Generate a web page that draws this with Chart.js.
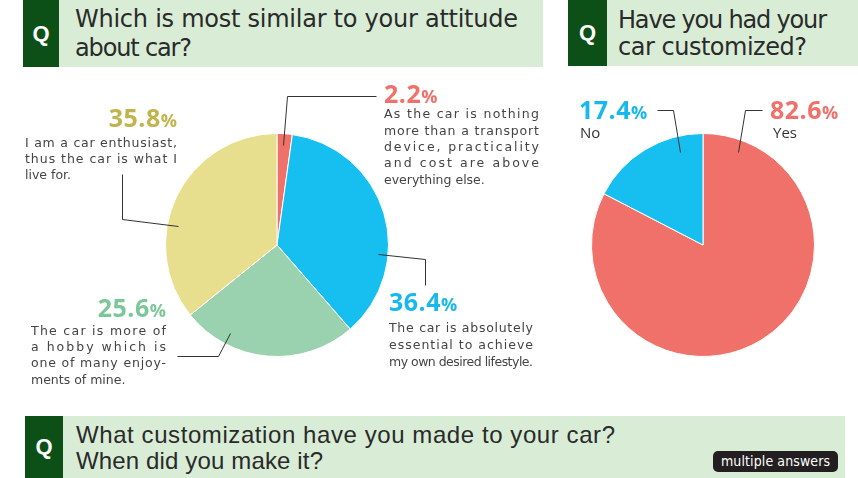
<!DOCTYPE html>
<html><head><meta charset="utf-8">
<script src="https://cdn.jsdelivr.net/npm/chart.js@4.4.1/dist/chart.umd.min.js"></script>
<style>
html,body{margin:0;padding:0;background:#fff;}
body{width:858px;height:478px;overflow:hidden;position:relative;font-family:"Liberation Sans",Arial,sans-serif;}
.abs{position:absolute;white-space:nowrap;}
.hdr{position:absolute;background:#d9edd6;}
.badge{position:absolute;background:#0c4f17;color:#fff;font-weight:bold;font-family:"Liberation Sans",Arial,sans-serif;font-size:22px;display:flex;align-items:center;justify-content:center;}
.ht{color:#2a2a2a;line-height:28px;}
.body{font-family:"DejaVu Sans",sans-serif;font-size:12.5px;color:#444;line-height:16px;}
.pct{font-family:"Open Sans",sans-serif;font-weight:bold;line-height:30px;}
.pct .n{font-size:25px;letter-spacing:0.5px;}
.pct .p{font-size:18px;}
.yn{font-family:"Open Sans",sans-serif;font-size:15px;color:#333;line-height:20px;}
.multi{position:absolute;background:#231f20;border-radius:5px;}
.mt{color:#fff;font-family:"Liberation Sans Narrow","DejaVu Sans Condensed",sans-serif;font-size:14px;line-height:20px;}
.cv{position:absolute;}
</style></head>
<body>
<div class="cv" style="left:0;top:70px;width:560px;height:330px"><canvas id="c1" width="560" height="330"></canvas></div>
<div class="cv" style="left:560px;top:70px;width:298px;height:330px"><canvas id="c2" width="298" height="330"></canvas></div>
<script>
// ---- data ----
const attitudeLabels = [
  "As the car is nothing more than a transport device, practicality and cost are above everything else.",
  "The car is absolutely essential to achieve my own desired lifestyle.",
  "The car is more of a hobby which is one of many enjoyments of mine.",
  "I am a car enthusiast, thus the car is what I live for."
];
const attitudeValues = [2.2, 36.4, 25.6, 35.8];
const customizedLabels = ["Yes", "No"];
const customizedValues = [82.6, 17.4];
const questionTitles = [
  ["Which is most similar to your attitude", "about car?"],
  ["Have you had your", "car customized?"],
  ["What customization have you made to your car?", "When did you make it?"]
];
const attitudeTextLines = [
  ["As the car is nothing", "more than a transport", "device, practicality", "and cost are above", "everything else."],
  ["The car is absolutely", "essential to achieve", "my own desired lifestyle."],
  ["The car is more of", "a hobby which is", "one of many enjoy-", "ments of mine."],
  ["I am a car enthusiast,", "thus the car is what I", "live for."]
];

// ---- styles ----
const attitudeColors = ["#f0706a", "#17bff0", "#9ad1ae", "#e8df8e"];
const attitudeLabelColors = ["#f0706a", "#17b9ec", "#7cc79a", "#c2b44c"];
const customizedColors = ["#f0706a", "#17bff0"];
const customizedLabelColors = ["#f0706a", "#17b9ec"];

function el(cls, html, style){
  const d = document.createElement('div');
  d.className = cls; d.innerHTML = html;
  Object.assign(d.style, style);
  document.body.appendChild(d);
  return d;
}
function fit(d, w){
  const nat = d.getBoundingClientRect().width;
  const n = d.textContent.length;
  if (n > 1) d.style.letterSpacing = ((w - nat) / (n - 1)) + 'px';
}

// headers
const headers = [
  {x:23, y:0, w:520, h:67, bw:36, tx:75, cy:[19,48], tw:[443,117], fs:24, ff:'"DejaVu Sans",sans-serif'},
  {x:568, y:0, w:290, h:66, bw:39, tx:618, cy:[20,47], tw:[209,189], fs:24, ff:'"DejaVu Sans",sans-serif'},
  {x:25, y:416, w:820, h:62, bw:38, tx:76, cy:[435,461], tw:[539,247], fs:24, ff:'"Liberation Sans",Arial,sans-serif'}
];
headers.forEach((h, i) => {
  el('hdr', '', {left:h.x+'px', top:h.y+'px', width:h.w+'px', height:h.h+'px'});
  el('badge', 'Q', {left:h.x+'px', top:h.y+'px', width:h.bw+'px', height:h.h+'px'});
  questionTitles[i].forEach((t, j) => {
    const d = el('abs ht', t, {left:h.tx+'px', top:(h.cy[j]-14)+'px', fontSize:h.fs+'px', fontFamily:h.ff});
    fit(d, h.tw[j]);
  });
});
el('multi', '', {left:'713px', top:'451px', width:'125px', height:'21px'});
fit(el('abs mt', 'multiple answers', {left:'721px', top:'451px'}), 109);

// percent labels + text blocks for chart 1
const pctPos1 = [
  {left:384, cy:94}, {left:389, cy:302}, {right:166, cy:308}, {right:177, cy:118}
];
const textPos1 = [
  {x:384, cy:[114,131,147,163,180], w:155, j:[1,1,1,1,0]},
  {x:389, cy:[328,345,362], w:144, j:[1,1,1]},
  {x:31, cy:[331,347,363,380], w:135, j:[1,1,1,0]},
  {x:25, cy:[143,159,175], w:152, j:[1,1,0]}
];
function pctHtml(v){ return '<span class="n">'+v.toFixed(1)+'</span><span class="p">%</span>'; }
attitudeValues.forEach((v, i) => {
  const p = pctPos1[i];
  const st = {top:(p.cy-16)+'px', color:attitudeLabelColors[i]};
  if (p.left !== undefined) st.left = p.left+'px'; else st.right = (858-p.right)+'px';
  el('abs pct', pctHtml(v), st);
  const tp = textPos1[i];
  attitudeTextLines[i].forEach((line, j) => {
    const d = el('abs body', line, {left:tp.x+'px', top:(tp.cy[j]-8)+'px'});
    if (tp.j[j]) fit(d, tp.w);
  });
});
// chart 2 labels
const pctPos2 = [{left:770, cy:110, tx:773}, {left:579, cy:110, tx:580}];
customizedValues.forEach((v, i) => {
  const p = pctPos2[i];
  el('abs pct', pctHtml(v), {left:p.left+'px', top:(p.cy-16)+'px', color:customizedLabelColors[i]});
  el('abs yn', customizedLabels[i], {left:p.tx+'px', top:(132-10)+'px'});
});

// leader lines (annotation, page coords)
const leaders1 = [
  [[283,145],[287,96],[376,96]],
  [[378,254],[425,259],[425,285]],
  [[230,333],[218,356],[177,356]],
  [[178,226],[122,219],[122,174]]
];
const leaders2 = [
  [[738,152],[745,110],[762,110]],
  [[680,152],[673,110],[657,110]]
];
function leaderPlugin(lines, ox, oy){
  return {
    id:'leaders',
    afterDraw(chart){
      const ctx = chart.ctx;
      ctx.save();
      ctx.strokeStyle = '#333'; ctx.lineWidth = 1;
      lines.forEach(pts => {
        ctx.beginPath();
        pts.forEach((p, k) => { const x = p[0]-ox+0.5, y = p[1]-oy+0.5; k ? ctx.lineTo(x,y) : ctx.moveTo(x,y); });
        ctx.stroke();
      });
      ctx.restore();
    }
  };
}
const common = {
  responsive:false, animation:false, devicePixelRatio:1, events:[],
  plugins:{legend:{display:false}, tooltip:{enabled:false}}
};
new Chart(document.getElementById('c1'), {
  type:'pie',
  data:{labels:attitudeLabels, datasets:[{data:attitudeValues, backgroundColor:attitudeColors, borderColor:'#fff', borderWidth:1, hoverOffset:0}]},
  options:Object.assign({}, common, {layout:{padding:{left:165, right:171, top:63, bottom:43}}}),
  plugins:[leaderPlugin(leaders1, 0, 70)]
});
new Chart(document.getElementById('c2'), {
  type:'pie',
  data:{labels:customizedLabels, datasets:[{data:customizedValues, backgroundColor:customizedColors, borderColor:'#fff', borderWidth:1, hoverOffset:0}]},
  options:Object.assign({}, common, {layout:{padding:{left:31, right:43, top:63, bottom:43}}}),
  plugins:[leaderPlugin(leaders2, 560, 70)]
});
</script>
</body></html>
